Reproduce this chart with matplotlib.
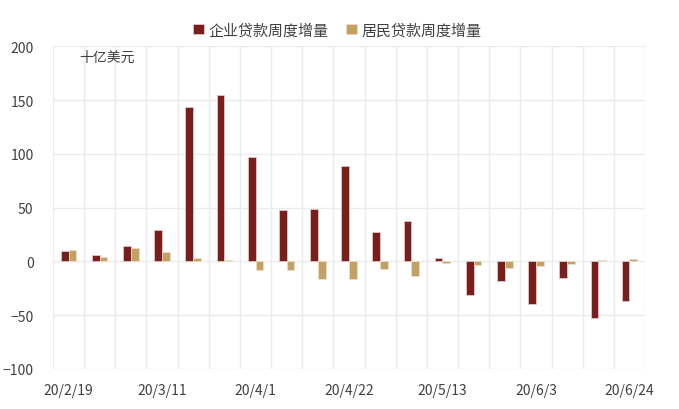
import numpy as np
import matplotlib
matplotlib.use("Agg")
import matplotlib.pyplot as plt

plt.rcParams['font.family'] = ['Noto Sans CJK SC', 'DejaVu Sans']

# 周度数据
weeks = ['20/2/19', '20/2/26', '20/3/4', '20/3/11', '20/3/18', '20/3/25', '20/4/1',
         '20/4/8', '20/4/15', '20/4/22', '20/4/29', '20/5/6', '20/5/13', '20/5/20',
         '20/5/27', '20/6/3', '20/6/10', '20/6/17', '20/6/24']
corp = [10, 6, 14, 29.5, 144, 155, 97, 48, 49, 88.5, 27.5, 38, 3, -31.5, -18.5, -39.5, -15, -53, -36.5]
household = [10.5, 4.3, 12.3, 9, 2.8, 1.2, -8, -8, -16.7, -16.7, -6.8, -13.9, -1.2, -3.4, -6.2, -4.3, -2.5, 1.2, 2.2]

c_corp = '#7A1E1C'
c_hh = '#C4A062'
txt = '#404040'

fig = plt.figure(figsize=(6.79, 4.10), dpi=100)
ax = fig.add_axes([0.078, 0.0976, 0.872, 0.787])

x = np.arange(len(weeks))
w = 0.25
ax.bar(x - w/2, corp, w, color=c_corp, edgecolor='#D9C8C8', linewidth=0.6, label='企业贷款周度增量', zorder=3)
ax.bar(x + w/2, household, w, color=c_hh, edgecolor='#EADFCB', linewidth=0.6, label='居民贷款周度增量', zorder=3)

ax.set_xlim(-0.5, len(weeks) - 0.5)
ax.set_ylim(-100, 200)
ax.set_yticks(np.arange(-100, 201, 50))

# 网格：横线在刻度，竖线在类别边界
for yv in np.arange(-100, 201, 50):
    ax.axhline(yv, color='#EBEBEB', linewidth=1, zorder=1)
for xb in np.arange(-0.5, len(weeks), 1):
    ax.axvline(xb, color='#EBEBEB', linewidth=1, zorder=1)

ax.set_xticks(x[::3])
ax.set_xticklabels(weeks[::3])
ax.tick_params(axis='both', length=0, labelsize=10, colors=txt)
ax.tick_params(axis='x', pad=10)
ax.tick_params(axis='y', pad=14)
for s in ax.spines.values():
    s.set_visible(False)

ax.text(0.045, 0.99, '十亿美元', transform=ax.transAxes, fontsize=10, color=txt, va='top', ha='left')

fig.legend(loc='center', bbox_to_anchor=(0.497, 0.924), ncol=2, frameon=False, fontsize=10.8,
           handlelength=0.7, handleheight=0.7, handletextpad=0.3, columnspacing=1.2, labelcolor=txt)

fig.savefig('out.png', dpi=100)
